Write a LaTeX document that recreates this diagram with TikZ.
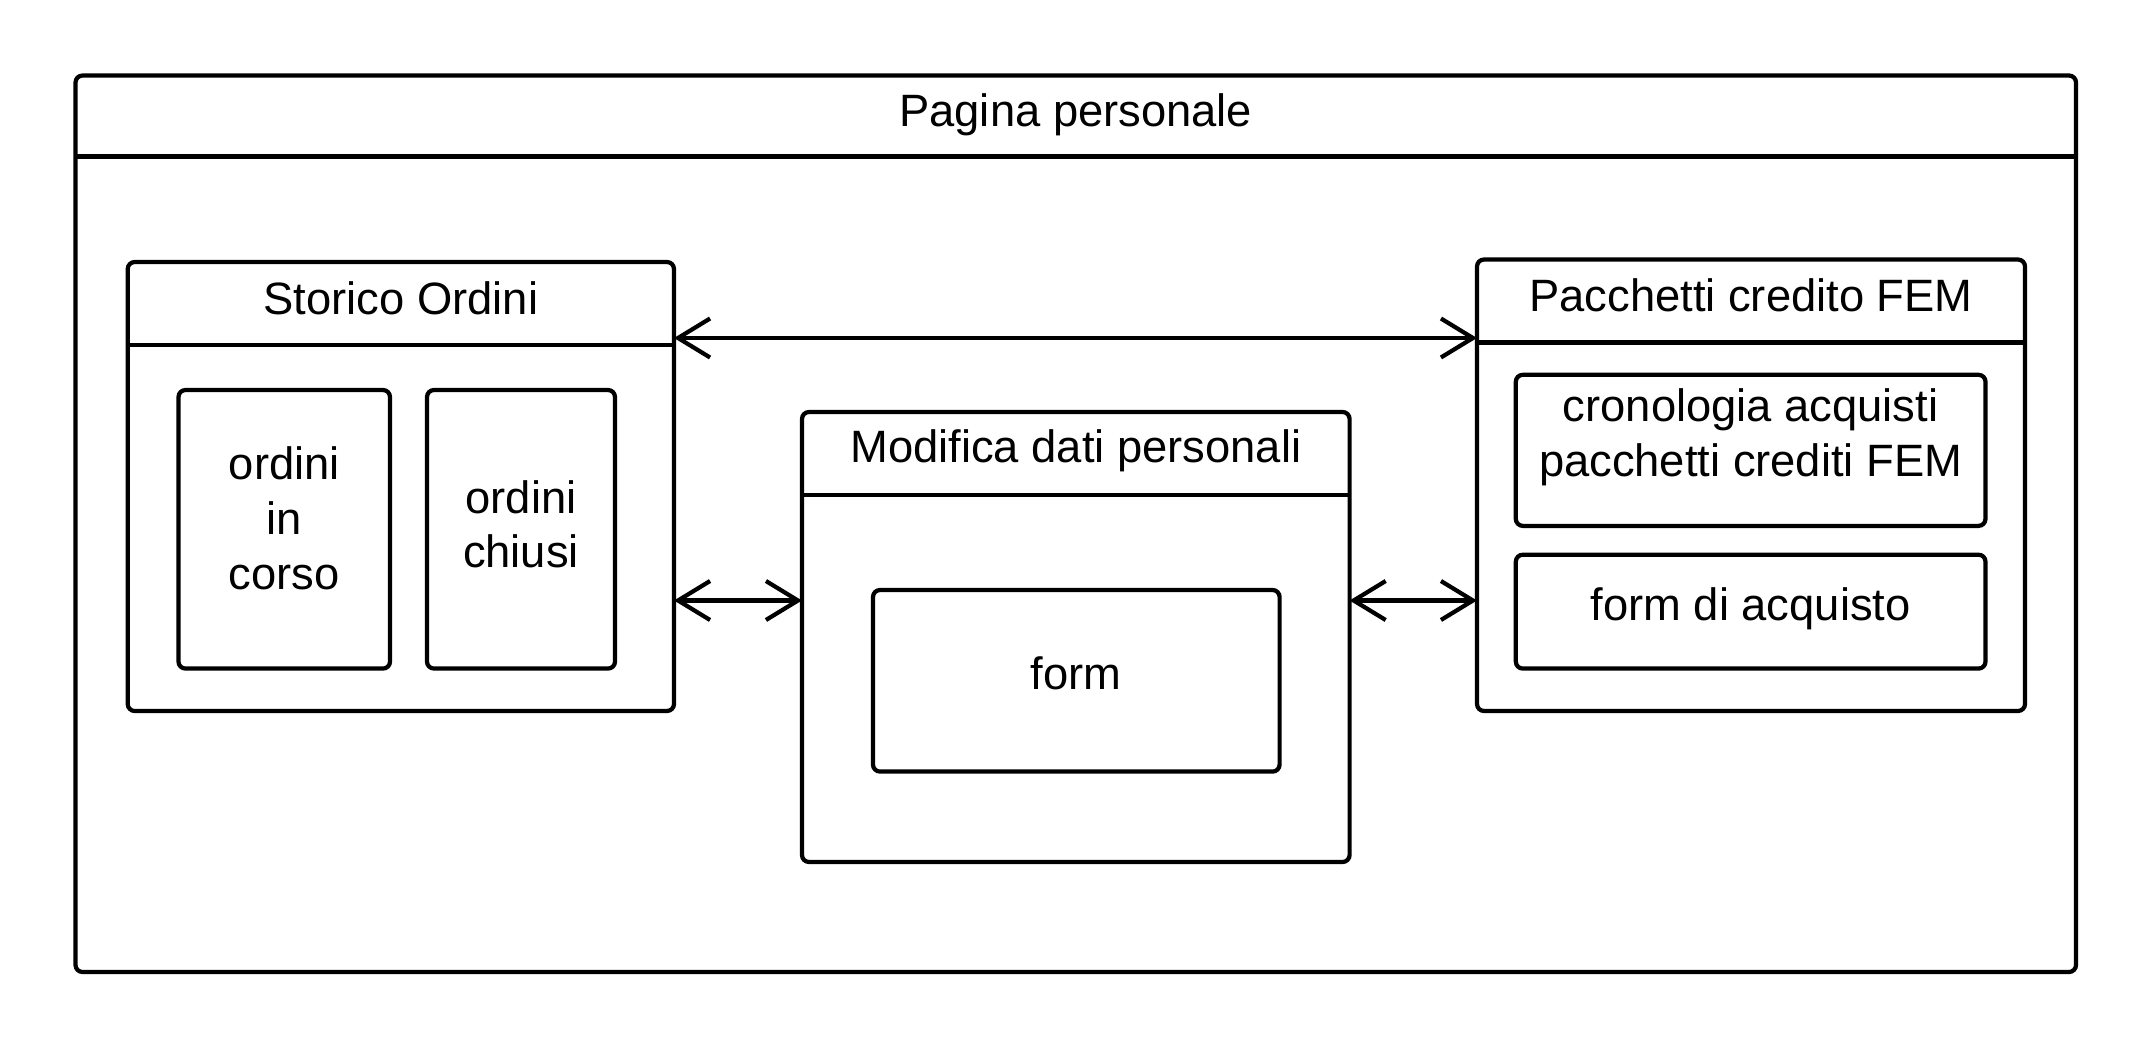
\documentclass[tikz,border=0pt]{standalone}
\usepackage{fontspec}
\setmainfont{Liberation Sans}
\usetikzlibrary{arrows.meta}

\begin{document}
\begin{tikzpicture}[x=1cm, y=-1cm,
		font=\fontsize{12.9}{15.6}\selectfont,
		box/.style={draw, line width=1.2pt, rounded corners=2pt, outer sep=0pt, inner sep=0pt},
		txt/.style={align=center, inner sep=0pt},
		link/.style={line width=1.2pt, {Straight Barb[length=3.2mm, width=3.9mm]}-{Straight Barb[length=3.2mm, width=3.9mm]}}]
			\def\hd{0.83cm};
			
			\useasboundingbox (0,0) rectangle (21.53,10.48);
			
			% main page
			\node [box, minimum width=20.005cm, minimum height=8.965cm] (page) at (10.7575,5.2375) {};
			\draw [line width=1.2pt] ([yshift=-0.81cm]page.north west) -- ([yshift=-0.81cm]page.north east);
			\node [txt] (pageT) at ([yshift=-0.39cm]page.north) {Pagina personale};
			
			% sections
			\node [box, minimum width=5.463cm, minimum height=4.49cm] (storico) at (4.0085,4.865) {};
			\node [box, minimum width=5.476cm, minimum height=4.5cm] (modifica) at (10.758,6.37) {};
			\node [box, minimum width=5.48cm, minimum height=4.515cm] (pacchetti) at (17.51,4.8525) {};
			
			\foreach \n in {storico, modifica, pacchetti}
				\draw [line width=1.2pt] ([yshift=-\hd]\n.north west) -- ([yshift=-\hd]\n.north east);
			
			\node [txt] (storicoT) at ([yshift=-0.36cm]storico.north) {Storico Ordini};
			\node [txt] (modificaT) at ([yshift=-0.385cm]modifica.north) {Modifica dati personali};
			\node [txt] (pacchettiT) at ([yshift=-0.36cm]pacchetti.north) {Pacchetti credito FEM};
			
			% inner boxes
			\node [box, minimum width=2.115cm, minimum height=2.786cm] (incorso) at (2.8425,5.293) {};
			\node [txt] (incorsoT) at ([yshift=0.11cm]incorso.center) {ordini\\in\\corso};
			\node [box, minimum width=1.88cm, minimum height=2.786cm] (chiusi) at (5.21,5.293) {};
			\node [txt] (chiusiT) at ([yshift=0.05cm]chiusi.center) {ordini\\chiusi};
			\node [box, minimum width=4.066cm, minimum height=1.816cm] (form) at (10.763,6.808) {};
			\node [txt] (formT) at ([yshift=0.07cm]form.center) {form};
			\node [box, minimum width=4.697cm, minimum height=1.511cm] (crono) at (17.5065,4.5035) {};
			\node [txt] (cronoT) at ([yshift=0.13cm]crono.center) {cronologia acquisti\\pacchetti crediti FEM};
			\node [box, minimum width=4.697cm, minimum height=1.139cm] (acquisto) at (17.5065,6.1165) {};
			\node [txt] (acquistoT) at ([yshift=0.03cm]acquisto.center) {form di acquisto};
			
			% connections
			\coordinate (top) at (0,3.38);
			\coordinate (mid) at (0,6.005);
			\draw [link] (storico.east |- top) -- (pacchetti.west |- top);
			\draw [link] (storico.east |- mid) -- (modifica.west |- mid);
			\draw [link] (modifica.east |- mid) -- (pacchetti.west |- mid);
		\end{tikzpicture}
\end{document}
